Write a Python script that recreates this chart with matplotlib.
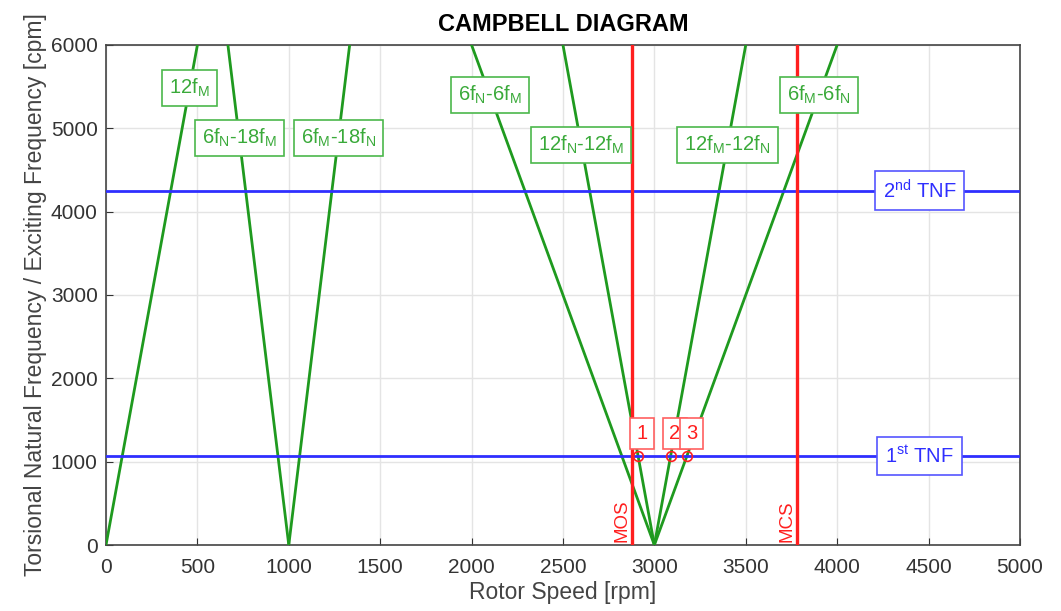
import matplotlib.pyplot as plt

plt.rcParams['font.family'] = ['Liberation Sans', 'DejaVu Sans']
plt.rcParams['mathtext.default'] = 'regular'

# excitation lines (start / end points, rpm vs cpm)
line_labels = ['12f$_M$', '6f$_N$-18f$_M$', '6f$_M$-18f$_N$', '6f$_N$-6f$_M$',
               '12f$_N$-12f$_M$', '12f$_M$-12f$_N$', '6f$_M$-6f$_N$']
line_x = [[0, 500], [1000, 667], [1000, 1333], [3000, 2000], [3000, 2500], [3000, 3500], [3000, 4000]]
line_y = [[0, 6000], [0, 6000], [0, 6000], [0, 6000], [0, 6000], [0, 6000], [0, 6000]]
label_x = [457, 729, 1271, 2100, 2600, 3400, 3900]
label_y = [5484, 4884, 4884, 5400, 4800, 4800, 5400]

# torsional natural frequencies
tnf_labels = ['1$^{st}$ TNF', '2$^{nd}$ TNF']
tnf_values = [1070, 4250]
tnf_label_x = 4450

# speed limits
speed_labels = ['MOS', 'MCS']
speed_values = [2880, 3780]

# interference points
point_labels = ['1', '2', '3']
point_x = [2910, 3090, 3180]
point_y = [1070, 1070, 1070]

green = '#1f9a1f'
red = '#ff1f1f'
blue = '#2f2fff'

fig = plt.figure(figsize=(10.61, 6.11), dpi=100)
ax = fig.add_axes([0.0999, 0.108, 0.8614, 0.8184])

for xs, ys in zip(line_x, line_y):
    ax.plot(xs, ys, color=green, lw=2, zorder=3)

for v in tnf_values:
    ax.axhline(v, color=blue, lw=2, zorder=3)

for v in speed_values:
    ax.axvline(v, color=red, lw=2.4, zorder=4)

ax.plot(point_x, point_y, 'o', mfc='none', mec=red, ms=7, mew=1.2, zorder=5)

for lab, x, y in zip(line_labels, label_x, label_y):
    ax.text(x, y, lab, color='#3aaa3a', fontsize=14.5, ha='center', va='center', zorder=6,
            bbox=dict(boxstyle='square,pad=0.35', fc='white', ec='#4cb84c', lw=1.2))

for lab, v in zip(tnf_labels, tnf_values):
    ax.text(tnf_label_x, v, lab, color=blue, fontsize=14.5, ha='center', va='center', zorder=6,
            bbox=dict(boxstyle='square,pad=0.4', fc='white', ec='#5555ff', lw=1.2))

for lab, v in zip(speed_labels, speed_values):
    ax.text(v - 10, 40, lab, color=red, fontsize=13.5, rotation=90, ha='right', va='bottom', zorder=6)

for lab, x, y in zip(point_labels, point_x, point_y):
    ax.annotate(lab, (x, y), xytext=(-1, 9), textcoords='offset points', color=red,
                fontsize=14.5, ha='left', va='bottom', zorder=7,
                bbox=dict(boxstyle='square,pad=0.3', fc='white', ec='#ff6060', lw=1.2))

ax.set_xlim(0, 5000)
ax.set_ylim(0, 6000)
ax.set_xticks(range(0, 5001, 500))
ax.set_yticks(range(0, 6001, 1000))
ax.grid(True, color='#e4e4e4', lw=1)
ax.set_axisbelow(True)
ax.tick_params(direction='in', labelsize=15, colors='#333333', length=5, pad=6)
ax.tick_params(axis='x', pad=9)
for s in ax.spines.values():
    s.set_color('#444444')
    s.set_linewidth(1.2)

ax.set_title('CAMPBELL DIAGRAM', fontsize=17, fontweight='bold', pad=10)
ax.set_xlabel('Rotor Speed [rpm]', fontsize=16.5, color='#444444', labelpad=3)
ax.set_ylabel('Torsional Natural Frequency / Exciting Frequency [cpm]', fontsize=16.5,
              color='#444444', labelpad=3)

fig.savefig('out.png', dpi=100)
